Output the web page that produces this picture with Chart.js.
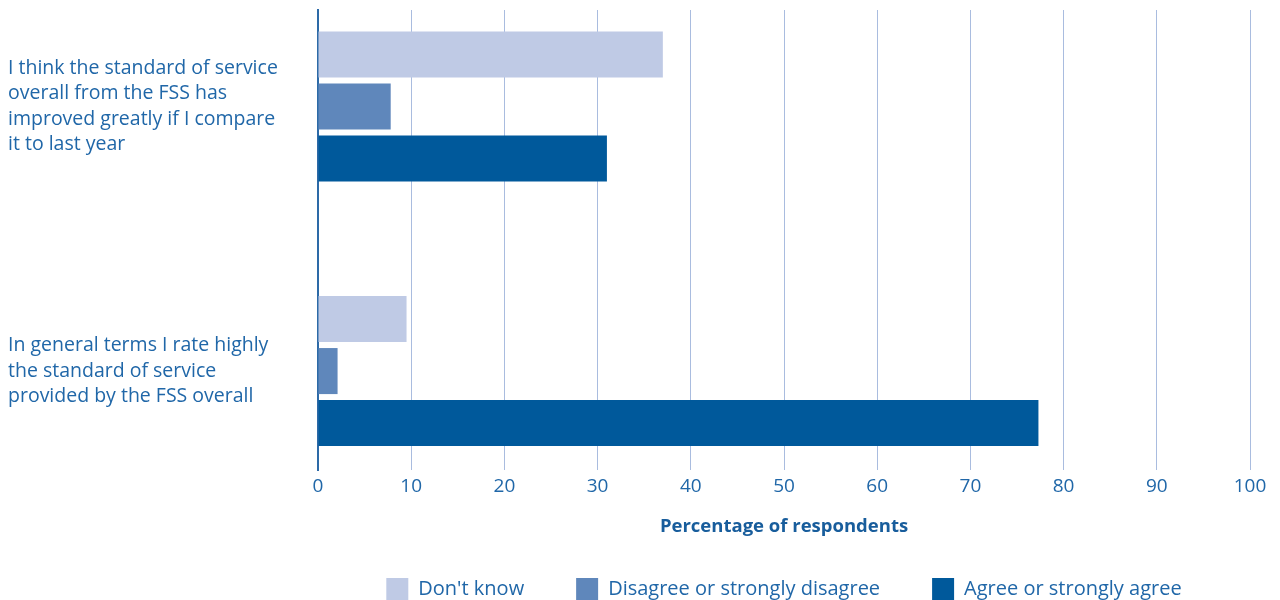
<!DOCTYPE html>
<html>
<head>
<meta charset="utf-8">
<script src="https://cdn.jsdelivr.net/npm/chart.js@4"></script>
<style>
  html, body { margin: 0; padding: 0; background: #fff; overflow: hidden; }
  #wrap { width: 1280px; height: 600px; }
</style>
</head>
<body>
<div id="wrap"><canvas id="bar-chart"></canvas></div>
<script>
// statements shown on the left (one per group of bars)
var statements = [
  ['I think the standard of service', 'overall from the FSS has', 'improved greatly if I compare', 'it to last year'],
  ['In general terms I rate highly', 'the standard of service', 'provided by the FSS overall']
];
var series = ["Don't know", 'Disagree or strongly disagree', 'Agree or strongly agree'];
var dontKnow = [37.0, 9.5];
var disagree = [7.8, 2.1];
var agree = [31.0, 77.3];
var xTicks = [0, 10, 20, 30, 40, 50, 60, 70, 80, 90, 100];

var colores = ['#bfcae5', '#5f87bb', '#00599b'];
var textColor = '#2067a8';
var fuente = 'Open Sans';

function puntos(vals){
  var out = [];
  for (var i = 0; i < vals.length; i++) out.push({x: vals[i], y: i});
  return out;
}

var chartdata = {
  datasets: [
    { label: series[0], backgroundColor: colores[0], data: puntos(dontKnow) },
    { label: series[1], backgroundColor: colores[1], data: puntos(disagree) },
    { label: series[2], backgroundColor: colores[2], data: puntos(agree) }
  ]
};

var ctx = document.getElementById('bar-chart');

var barGraph = new Chart(ctx, {
  type: 'bar',
  data: chartdata,
  options: {
    indexAxis: 'y',
    responsive: true,
    maintainAspectRatio: false,
    animation: false,
    categoryPercentage: 0.59,
    barPercentage: 0.885,
    layout: { padding: { left: 8, right: 30, top: 10, bottom: -10 } },
    scales: {
      x: {
        type: 'linear',
        min: 0,
        max: 100,
        afterBuildTicks: function(scale){
          scale.ticks = xTicks.map(function(v){ return {value: v}; });
        },
        afterFit: function(scale){ scale.height = 56; },
        grid: { color: '#a9bcdf', lineWidth: 1, drawTicks: false },
        border: { display: false },
        ticks: { color: textColor, padding: 5, font: { family: fuente, size: 19 } },
        title: {
          display: true,
          text: 'Percentage of respondents',
          color: '#185d9c',
          padding: { top: 0, bottom: -1 },
          font: { family: fuente, size: 18.5, weight: 'bold', lineHeight: 0 }
        }
      },
      y: {
        type: 'linear',
        reverse: true,
        offset: false,
        min: -0.365,
        max: 1.374,
        afterBuildTicks: function(scale){
          scale.ticks = statements.map(function(s, i){ return {value: i}; });
        },
        afterFit: function(scale){
          scale.width = 310;
          scale.paddingTop = 0;
          scale.paddingBottom = 0;
        },
        grid: { display: false },
        border: { display: true, color: '#2d6aa7', width: 2 },
        ticks: {
          crossAlign: 'far',
          color: textColor,
          font: { family: fuente, size: 19.5, lineHeight: 1.31 },
          callback: function(value){ return statements[value]; }
        }
      }
    },
    plugins: {
      legend: {
        position: 'bottom',
        fullSize: false,
        labels: {
          boxWidth: 22,
          boxHeight: 22,
          padding: 52,
          color: textColor,
          font: { family: fuente, size: 20 }
        }
      },
      tooltip: { enabled: false }
    }
  }
});
</script>
</body>
</html>
